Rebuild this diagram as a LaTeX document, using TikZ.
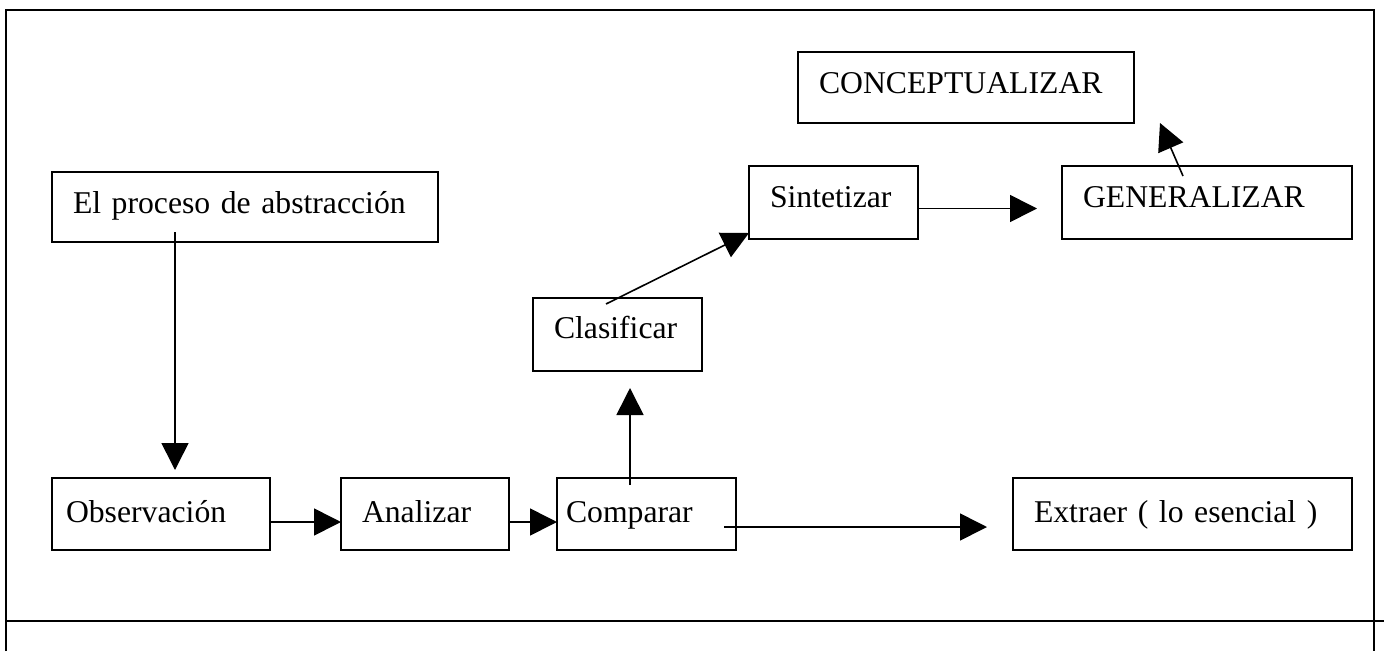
\documentclass[tikz,border=0pt]{standalone}
\usepackage{fontspec}
\setmainfont{Liberation Serif}
\usetikzlibrary{arrows.meta,calc}
\begin{document}
\begin{tikzpicture}[x=1pt,y=-1pt,
  frame/.style={line width=2.4pt},
  tbox/.style={draw, line width=2.4pt, anchor=north west, inner sep=0pt, outer sep=0pt,
    inner xsep=21pt, align=left, font=\fontsize{31.7}{38}\selectfont},
  arr/.style={line width=1.6pt, -{Triangle[length=27pt,width=27pt]}},
]
\useasboundingbox (0,0) rectangle (1384,651);
% frame
\draw[frame] (6,651) -- (6,10) -- (1374,10) -- (1374,651);
\draw[frame] (6,621) -- (1384,621);
% boxes
\node[tbox, text width=344pt, text height=41pt, text depth=29pt] (proc) at (52,172) {El proceso de abstracción};
\node[tbox, inner xsep=14pt, text width=190pt, text height=44pt, text depth=28pt] (obs) at (52,478) {Observación};
\node[tbox, text width=126pt, text height=44pt, text depth=28pt] (ana) at (341,478) {Analizar};
\node[tbox, inner xsep=9pt, text width=161pt, text height=44pt, text depth=28pt] (comp) at (557,478) {Comparar};
\node[tbox, text width=297pt, text height=44pt, text depth=28pt] (extr) at (1013,478) {Extraer ( lo esencial )};
\node[tbox, text width=127pt, text height=40pt, text depth=33pt] (clas) at (533,298) {Clasificar};
\node[tbox, text width=127pt, text height=41pt, text depth=32pt] (sint) at (749,166) {Sintetizar};
\node[tbox, text width=248pt, text height=41pt, text depth=32pt] (gen) at (1062,166) {GENERALIZAR};
\node[tbox, text width=294pt, text height=41pt, text depth=30pt] (conc) at (798,52) {CONCEPTUALIZAR};
% arrows
\draw[arr, shorten >=8pt] ([shift={(123,-10)}]proc.south west) -- ([shift={(123,0)}]obs.north west);
\draw[arr] ([shift={(0,8)}]obs.east) -- ([shift={(0,8)}]ana.west);
\draw[arr] ([shift={(0,8)}]ana.east) -- ([shift={(0,8)}]comp.west);
\draw[arr, shorten >=26pt] ([shift={(-12,13)}]comp.east) -- ([shift={(0,13)}]extr.west);
\draw[arr, shorten >=17pt] ([shift={(73,7)}]comp.north west) -- ([shift={(97,0)}]clas.south west);
\draw[arr] ([shift={(73,6)}]clas.north west) -- ([shift={(0,-6)}]sint.south west);
\draw[arr, shorten >=25pt] ([shift={(0,6)}]sint.east) -- ([shift={(0,6)}]gen.west);
\draw[arr] ([shift={(121,10)}]gen.north west) -- ([shift={(26,0)}]conc.south east);
\end{tikzpicture}
\end{document}
